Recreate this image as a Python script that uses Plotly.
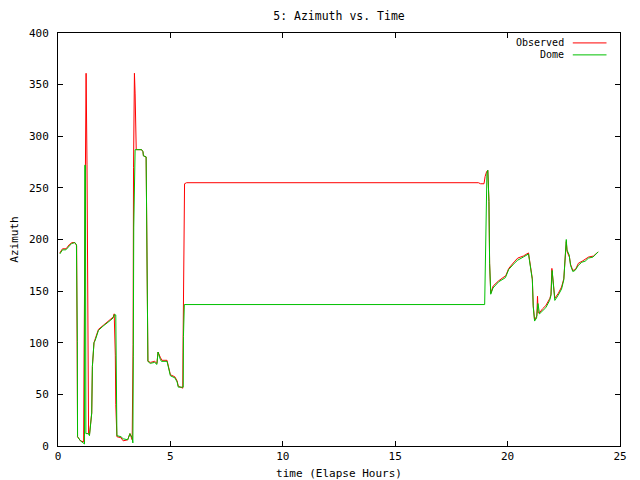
import plotly.graph_objects as go

# Dome (green) trace
dome_time = [0.08, 0.2, 0.35, 0.5, 0.6, 0.75, 0.82, 0.86, 0.87, 1.0, 1.15, 1.18,
             1.19, 1.22, 1.24, 1.35, 1.40, 1.50, 1.53, 1.60, 1.65, 1.76, 1.8, 2.0,
             2.2, 2.35, 2.45, 2.5, 2.57, 2.59, 2.6, 2.62, 2.8, 2.9, 3.1, 3.2, 3.3,
             3.33, 3.35, 3.37, 3.43, 3.72, 3.78, 3.8, 3.92, 3.94, 3.96, 4.0, 4.1,
             4.3, 4.4, 4.45, 4.55, 4.6, 4.85, 4.9, 4.95, 5.0, 5.2, 5.3, 5.35, 5.57,
             5.58, 5.62, 18.98, 19.0, 19.04, 19.08, 19.12, 19.17, 19.2, 19.25, 19.35,
             19.6, 19.9, 20.05, 20.3, 20.45, 20.7, 20.85, 20.93, 20.97, 21.05, 21.1,
             21.14, 21.2, 21.29, 21.35, 21.42, 21.55, 21.7, 21.87, 21.93, 21.98,
             22.02, 22.1, 22.25, 22.4, 22.5, 22.53, 22.58, 22.61, 22.64, 22.74, 22.8,
             22.9, 23.0, 23.15, 23.3, 23.45, 23.6, 23.8, 24.03]
dome_az = [186, 190, 190, 194, 196, 197, 195, 101, 9, 5, 3, 2,
           272, 272, 12, 12, 10, 32, 77, 100, 102, 109, 112, 116,
           119, 122, 124, 127, 127, 98, 40, 10, 9, 7, 6, 12, 8,
           3, 87, 212, 287, 287, 285, 281, 280, 232, 132, 82, 80,
           81, 79, 91, 84, 82, 82, 78, 72, 68, 66, 62, 57, 57,
           106, 137, 137, 168, 232, 264, 267, 237, 177, 147, 153,
           159, 163, 171, 177, 180, 183, 185, 186, 180, 170, 161,
           135, 121, 124, 138, 128, 131, 134, 141, 146, 170,
           158, 141, 146, 152, 161, 170, 190, 200, 190, 185, 175,
           169, 170, 175, 178, 179, 182, 183, 188]

# Observed (red) trace
obs_time = [0.08, 0.2, 0.36, 0.5, 0.62, 0.75, 0.83, 0.86, 0.87, 1.0, 1.14, 1.16,
            1.20, 1.25, 1.29, 1.34, 1.36, 1.40, 1.50, 1.53, 1.60, 1.66, 1.77, 1.8,
            2.02, 2.2, 2.36, 2.46, 2.5, 2.55, 2.57, 2.6, 2.62, 2.8, 2.9, 3.1, 3.2,
            3.3, 3.34, 3.36, 3.40, 3.43, 3.46, 3.48, 3.72, 3.78, 3.8, 3.92, 3.94,
            3.96, 4.0, 4.12, 4.3, 4.4, 4.45, 4.55, 4.62, 4.85, 4.9, 4.95, 5.0, 5.2,
            5.3, 5.35, 5.55, 5.56, 5.60, 5.63, 5.72, 18.7, 18.8, 18.95, 19.0, 19.07,
            19.12, 19.17, 19.2, 19.25, 19.36, 19.6, 19.92, 20.05, 20.32, 20.45, 20.7,
            20.86, 20.93, 20.97, 21.05, 21.1, 21.14, 21.2, 21.3, 21.33, 21.36, 21.42,
            21.56, 21.7, 21.88, 21.93, 21.97, 22.02, 22.1, 22.26, 22.4, 22.5, 22.53,
            22.58, 22.61, 22.65, 22.75, 22.8, 22.9, 23.02, 23.15, 23.32, 23.45, 23.6,
            23.82, 24.03]
obs_az = [187, 191, 191, 195, 197, 197, 194, 101, 9, 5, 4, 91,
          270, 361, 273, 98, 12, 11, 32, 77, 100, 104, 110, 113,
          117, 120, 123, 125, 128, 88, 40, 12, 9, 8, 5, 6, 12,
          6, 98, 270, 361, 341, 304, 287, 287, 285, 281, 280, 232,
          132, 82, 81, 82, 80, 91, 86, 83, 83, 78, 73, 69, 67,
          63, 58, 56, 91, 203, 254, 255, 255, 254, 254, 261, 266,
          267, 237, 177, 148, 155, 160, 165, 172, 179, 182, 184,
          186, 187, 181, 171, 162, 136, 122, 126, 145, 129, 129,
          133, 136, 143, 147, 172, 160, 143, 148, 154, 162, 172,
          191, 198, 188, 183, 176, 170, 171, 177, 179, 181, 183,
          184, 188]

series_names = ["Observed", "Dome"]
series_colors = ["#ff0000", "#00c000"]

x_ticks = [0, 5, 10, 15, 20, 25]
y_ticks = [0, 50, 100, 150, 200, 250, 300, 350, 400]

FONT = "DejaVu Sans Mono"

# the page body adds an 8px margin, so the figure is sized to fit the window
W, H = 632, 472

fig = go.Figure()
fig.add_trace(go.Scatter(x=obs_time, y=obs_az, mode="lines", name=series_names[0],
                         line=dict(color=series_colors[0], width=1), showlegend=False))
fig.add_trace(go.Scatter(x=dome_time, y=dome_az, mode="lines", name=series_names[1],
                         line=dict(color=series_colors[1], width=1), showlegend=False))

axis_common = dict(showline=True, linecolor="black", linewidth=1, mirror="allticks",
                   ticks="inside", ticklen=5, tickcolor="black", showgrid=False,
                   zeroline=False, automargin=False,
                   tickfont=dict(family=FONT, size=11, color="black"))

fig.update_xaxes(range=[0, 25], tickvals=x_ticks, ticklabelstandoff=0,
                 title=dict(text="time (Elapse Hours)", font=dict(family=FONT, size=11, color="black"), standoff=7),
                 **axis_common)
fig.update_yaxes(range=[0, 400], tickvals=y_ticks, ticklabelstandoff=6,
                 title=dict(text="Azimuth", font=dict(family=FONT, size=11, color="black"), standoff=12),
                 **axis_common)

# legend drawn gnuplot-style: text then line sample
leg_y = [0.976, 0.947]
for name, col, yy in zip(series_names, series_colors, leg_y):
    fig.add_annotation(x=0.903, y=yy, xref="paper", yref="paper", text=name,
                       showarrow=False, xanchor="right", yanchor="middle",
                       borderpad=0, font=dict(family=FONT, size=10, color="black"))
    fig.add_shape(type="line", xref="paper", yref="paper", x0=0.916, x1=0.976,
                  y0=yy, y1=yy, line=dict(color=col, width=1))

fig.update_layout(
    width=W, height=H,
    margin=dict(l=50, r=20, t=25, b=34),
    paper_bgcolor="white", plot_bgcolor="white",
    title=dict(text="5: Azimuth vs. Time", x=0.5, xref="paper", y=1 - 8 / H,
               yref="container", yanchor="middle",
               font=dict(family=FONT, size=11.5, color="black")),
)

fig.write_html("out.html")
